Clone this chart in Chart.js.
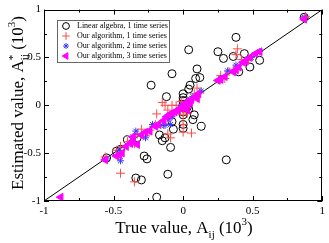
<!DOCTYPE html>
<html>
<head>
<meta charset="utf-8">
<script src="https://cdn.jsdelivr.net/npm/chart.js@4.4.1/dist/chart.umd.min.js"></script>
<style>
  html, body { margin: 0; padding: 0; background: #fff; }
  canvas { display: block; }
</style>
</head>
<body>
<canvas id="scatter" width="329" height="243"></canvas>
<script>
// series names (legend)
const seriesNames = [
  "Linear algebra, 1 time series",
  "Our algorithm, 1 time series",
  "Our algorithm, 2 time series",
  "Our algorithm, 3 time series"
];

// [true value, estimated value] in units of 10^3
const linearAlgebra = [
  [0.87, 0.92], [0.38, 0.71], [0.04, 0.58], [0.25, 0.56], [0.29, 0.49], [0.36, 0.51],
  [0.44, 0.54], [0.40, 0.35], [0.48, 0.40], [0.55, 0.47], [0.10, 0.38], [0.09, 0.28],
  [0.12, 0.29], [-0.08, 0.33], [-0.23, 0.21], [0.05, 0.21], [0.04, 0.17], [0.0, 0.12],
  [0.0, 0.08], [0.0, 0.05], [0.0, 0.01], [0.0, -0.03], [0.0, -0.07], [0.0, -0.10],
  [0.0, -0.20], [0.0, -0.24], [-0.12, 0.09], [0.04, -0.04], [0.07, -0.15], [0.08, -0.10],
  [0.13, -0.22], [-0.08, -0.17], [-0.07, -0.25], [-0.17, -0.31], [-0.15, -0.37],
  [-0.13, -0.34], [-0.09, -0.44], [-0.40, -0.36], [-0.33, -0.34], [-0.28, -0.53],
  [-0.26, -0.56], [-0.11, -0.72], [-0.34, -0.76], [-0.30, -0.78], [-0.19, -0.96],
  [0.31, -0.57], [-0.48, -0.48], [-0.55, -0.55], [-0.45, -0.46], [0.03, 0.02], [0.03, -0.02]
];
const algorithm1 = [
  [0.88, 0.93], [0.39, 0.59], [0.38, 0.53], [0.42, 0.48], [0.47, 0.47], [0.27, 0.31],
  [0.30, 0.28], [0.33, 0.35], [0.10, 0.18], [0.12, 0.13], [0.08, 0.12], [0.05, 0.05],
  [0.02, 0.02], [-0.01, 0.04], [-0.02, -0.05], [0.0, -0.10], [0.0, -0.20], [0.0, -0.28],
  [0.06, -0.29], [0.03, -0.08], [-0.05, 0.0], [-0.08, 0.0], [-0.13, 0.0], [-0.15, 0.03],
  [-0.19, -0.09], [-0.11, -0.05], [-0.14, -0.20], [-0.20, -0.20], [-0.24, -0.26],
  [-0.27, -0.32], [-0.33, -0.30], [-0.30, -0.25], [-0.35, -0.40], [-0.40, -0.38],
  [-0.45, -0.43], [-0.45, -0.71], [-0.35, -0.80], [-0.48, -0.47], [-0.56, -0.54],
  [-0.11, -0.30], [-0.09, -0.34], [0.26, 0.27], [0.36, 0.37]
];
const algorithm2 = [
  [0.87, 0.92], [0.55, 0.56], [0.49, 0.50], [0.38, 0.42], [0.32, 0.36], [0.27, 0.28],
  [0.13, 0.15], [0.07, 0.09], [0.04, 0.05], [-0.02, -0.02], [-0.05, -0.07], [-0.08, -0.12],
  [-0.10, -0.14], [-0.13, -0.21], [-0.16, -0.21], [-0.22, -0.20], [-0.27, -0.34],
  [-0.34, -0.27], [-0.36, -0.33], [-0.45, -0.58], [-0.46, -0.47], [-0.55, -0.56], [-0.09, -0.20]
];
const algorithm3 = [
  [0.87, 0.90], [-0.88, -0.96], [0.55, 0.56], [0.52, 0.54], [0.48, 0.50], [0.45, 0.46],
  [0.43, 0.45], [0.40, 0.40], [0.38, 0.37], [0.36, 0.35], [0.30, 0.30], [0.27, 0.27],
  [0.25, 0.26], [0.11, 0.12], [0.09, 0.09], [0.06, 0.06], [0.05, 0.03], [0.03, 0.0],
  [0.01, 0.02], [0.0, -0.02], [-0.02, -0.03], [-0.04, -0.05], [-0.06, -0.07], [-0.08, -0.08],
  [-0.10, -0.10], [-0.12, -0.12], [-0.14, -0.16], [-0.18, -0.20], [-0.20, -0.22],
  [-0.24, -0.27], [-0.27, -0.28], [-0.30, -0.31], [-0.33, -0.41], [-0.36, -0.37],
  [-0.38, -0.40], [-0.41, -0.43], [-0.44, -0.50], [-0.46, -0.52], [-0.48, -0.53],
  [-0.56, -0.57], [-0.36, -0.33], [0.03, -0.05], [0.04, 0.02], [0.10, 0.07]
];
const diagonal = [[-1, -1], [1, 1]];

const tickValues = [-1, -0.5, 0, 0.5, 1];
const tickLabels = ["-1", "-0.5", "0", "0.5", "1"];
const minorTicks = [-0.75, -0.25, 0.25, 0.75];

const SERIF = "'Liberation Serif', 'DejaVu Serif', serif";
const toXY = arr => arr.map(p => ({ x: p[0], y: p[1] }));

const styles = [
  { pointStyle: "circle", radius: 4, borderColor: "#000", backgroundColor: "rgba(0,0,0,0)", rotation: 0 },
  { pointStyle: "cross", radius: 4.5, borderColor: "#ff4a4a", backgroundColor: "#ff4a4a", rotation: 0 },
  { pointStyle: "star", radius: 3.5, borderColor: "#3a3aff", backgroundColor: "#3a3aff", rotation: 0 },
  { pointStyle: "triangle", radius: 4.5, borderColor: "#ff00ff", backgroundColor: "#ff00ff", rotation: -90 }
];
const seriesData = [linearAlgebra, algorithm1, algorithm2, algorithm3];

const datasets = seriesData.map((d, i) => ({
  type: "scatter",
  label: seriesNames[i],
  data: toXY(d),
  pointStyle: styles[i].pointStyle,
  pointRadius: styles[i].radius,
  pointRotation: styles[i].rotation,
  borderColor: styles[i].borderColor,
  backgroundColor: styles[i].backgroundColor,
  borderWidth: 1,
  order: 3 - i
}));
datasets.push({
  type: "line",
  label: "y = x",
  data: toXY(diagonal),
  borderColor: "#000",
  borderWidth: 1,
  pointRadius: 0,
  order: 10
});

// draw text made of normal / sub / superscript parts, centered on (cx, cy)
// a part with stack:true is drawn at the same x as the previous part
function drawRich(ctx, parts, cx, cy, angle) {
  ctx.save();
  ctx.translate(cx, cy);
  ctx.rotate(angle);
  const widths = parts.map(p => { ctx.font = p.size + "px " + SERIF; return ctx.measureText(p.t).width; });
  let total = 0;
  parts.forEach((p, i) => {
    if (p.stack) total += Math.max(0, widths[i] - widths[i - 1]);
    else total += widths[i];
  });
  let x = -total / 2;
  let prevX = x;
  ctx.fillStyle = "#000";
  ctx.textBaseline = "alphabetic";
  ctx.textAlign = "left";
  parts.forEach((p, i) => {
    ctx.font = p.size + "px " + SERIF;
    if (p.stack) {
      ctx.fillText(p.t, prevX, p.dy);
      x = Math.max(x, prevX + widths[i]);
    } else {
      ctx.fillText(p.t, x, p.dy);
      prevX = x;
      x += widths[i];
    }
  });
  ctx.restore();
}

const framePlugin = {
  id: "frame",
  afterDraw(chart) {
    const { ctx, chartArea: a, scales } = chart;
    ctx.save();
    ctx.strokeStyle = "#000";
    ctx.lineWidth = 1;
    ctx.strokeRect(Math.round(a.left) + 0.5, Math.round(a.top) + 0.5,
      Math.round(a.right - a.left) - 1, Math.round(a.bottom - a.top) - 1);
    ctx.beginPath();
    const mark = (vals, len) => {
      vals.forEach(v => {
        const px = Math.round(scales.x.getPixelForValue(v)) + 0.5;
        ctx.moveTo(px, a.bottom); ctx.lineTo(px, a.bottom - len);
        ctx.moveTo(px, a.top); ctx.lineTo(px, a.top + len);
        const py = Math.round(scales.y.getPixelForValue(v)) + 0.5;
        ctx.moveTo(a.left, py); ctx.lineTo(a.left + len, py);
        ctx.moveTo(a.right, py); ctx.lineTo(a.right - len, py);
      });
    };
    mark(tickValues, 5);
    mark(minorTicks, 3);
    ctx.stroke();

    // legend box
    const lx = 57, ly = 20, lw = 112, lh = 42;
    ctx.fillStyle = "#fff";
    ctx.fillRect(lx, ly, lw, lh);
    ctx.strokeStyle = "#666";
    ctx.strokeRect(lx + 0.5, ly + 0.5, lw, lh);
    seriesNames.forEach((name, i) => {
      const y = ly + 6 + i * 10;
      const s = styles[i];
      ctx.strokeStyle = s.borderColor;
      ctx.fillStyle = s.backgroundColor;
      ctx.lineWidth = 1;
      Chart.helpers.drawPoint(ctx, {
        pointStyle: s.pointStyle, radius: s.radius * 0.85, rotation: s.rotation, borderWidth: 1
      }, 66, y);
      ctx.fillStyle = "#000";
      ctx.font = "8px " + SERIF;
      ctx.textBaseline = "middle";
      ctx.textAlign = "left";
      ctx.fillText(name, 77, y);
    });

    // axis titles
    drawRich(ctx, [
      { t: "True value, A", size: 17, dy: 0 },
      { t: "ij", size: 11, dy: 5 },
      { t: " (10", size: 17, dy: 0 },
      { t: "3", size: 11, dy: -8 },
      { t: ")", size: 17, dy: 0 }
    ], 184, 233, 0);
    drawRich(ctx, [
      { t: "Estimated value, A", size: 17, dy: 0 },
      { t: "ij", size: 11, dy: 5 },
      { t: "*", size: 11, dy: -7, stack: true },
      { t: " (10", size: 17, dy: 0 },
      { t: "3", size: 11, dy: -8 },
      { t: ")", size: 17, dy: 0 }
    ], 23, 103, -Math.PI / 2);
    ctx.restore();
  }
};

const tickFont = { family: SERIF, size: 11 };

new Chart("scatter", {
  type: "scatter",
  data: { datasets: datasets },
  options: {
    responsive: false,
    animation: false,
    layout: { padding: { top: 6, right: 5, left: 0, bottom: 0 } },
    plugins: { legend: { display: false }, tooltip: { enabled: false } },
    scales: {
      x: {
        type: "linear", min: -1, max: 1,
        grid: { display: false, drawTicks: false },
        border: { display: false },
        afterFit: s => { s.height = 42; },
        afterBuildTicks: s => { s.ticks = tickValues.map(v => ({ value: v })); },
        ticks: {
          color: "#000", font: tickFont, padding: 4, maxRotation: 0, autoSkip: false,
          callback: (v, i) => tickLabels[i]
        }
      },
      y: {
        type: "linear", min: -1, max: 1,
        grid: { display: false, drawTicks: false },
        border: { display: false },
        afterFit: s => { s.width = 44; },
        afterBuildTicks: s => { s.ticks = tickValues.map(v => ({ value: v })); },
        ticks: {
          color: "#000", font: tickFont, padding: 3, autoSkip: false,
          callback: (v, i) => tickLabels[i]
        }
      }
    }
  },
  plugins: [framePlugin]
});
</script>
</body>
</html>
